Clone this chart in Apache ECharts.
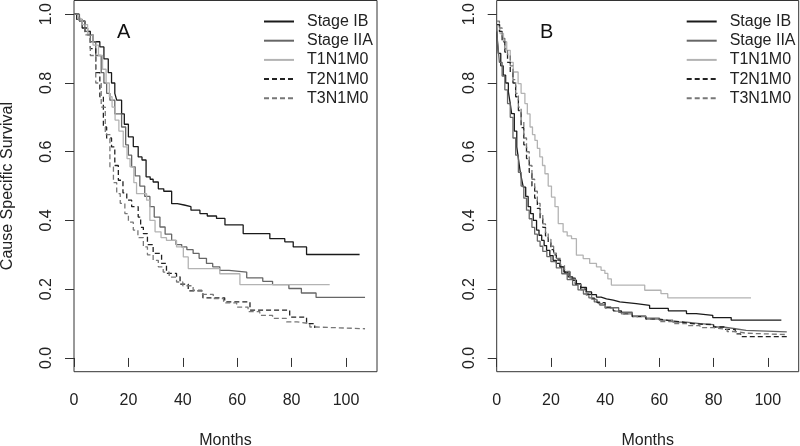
<!DOCTYPE html>
<html>
<head>
<meta charset="utf-8">
<script src="https://cdn.jsdelivr.net/npm/echarts@6/dist/echarts.min.js"></script>
<style>html,body{margin:0;padding:0;background:#fff;}#c{width:800px;height:446px;}</style>
</head>
<body>
<div id="c"></div>
<script>
// ---- Data (time in months, cause-specific survival) ----
const seriesNames = ['Stage IB', 'Stage IIA', 'T1N1M0', 'T2N1M0', 'T3N1M0'];
const xTicks = [0, 20, 40, 60, 80, 100];
const yTicks = [0, 0.2, 0.4, 0.6, 0.8, 1.0];

// Panel A
const A_IB = [[0,1],[1,0.985],[3,0.96],[5,0.94],[7,0.92],[9.5,0.905],[11,0.87],[12.6,0.83],[13.8,0.8],[15,0.77],[15.7,0.75],[17.5,0.71],[18.5,0.68],[20,0.643],[21.8,0.615],[23.6,0.585],[25,0.576],[26.5,0.527],[28,0.52],[29.1,0.512],[31,0.492],[33,0.485],[35.9,0.449],[38,0.445],[40.5,0.44],[43,0.43],[46.3,0.42],[49,0.413],[52.4,0.406],[55.5,0.387],[62.2,0.362],[72,0.347],[77.5,0.338],[80.6,0.323],[85.5,0.301],[105,0.301]];
const A_IIA = [[0,1],[2,0.98],[4,0.95],[6,0.92],[8,0.88],[10,0.83],[11,0.8],[12,0.77],[13.2,0.75],[15,0.71],[17.5,0.672],[19,0.62],[20,0.59],[21.2,0.556],[22.5,0.53],[24.2,0.5],[26,0.47],[27.9,0.44],[29.5,0.41],[31.6,0.381],[33.5,0.36],[35.9,0.342],[37.5,0.33],[39.6,0.323],[41.5,0.315],[43.8,0.304],[46,0.29],[48.7,0.275],[51,0.265],[53.6,0.255],[57,0.25],[63.5,0.233],[69.4,0.223],[73,0.2135],[79,0.202],[83.6,0.189],[89,0.176],[107,0.176]];
const A_T1 = [[0,1],[1.5,0.985],[3,0.97],[5,0.94],[7,0.91],[9,0.88],[10.5,0.84],[11.8,0.8],[13,0.76],[14,0.73],[15.1,0.692],[16.5,0.66],[18.1,0.614],[19.5,0.58],[20.6,0.556],[22,0.51],[23,0.478],[26.7,0.459],[27.9,0.4],[29.8,0.367],[32,0.35],[34,0.342],[37.7,0.323],[40.2,0.294],[42,0.26],[53.6,0.245],[61,0.2135],[94,0.2135]];
const A_T2 = [[0,1],[2,0.98],[4,0.95],[6,0.9],[8,0.83],[9.5,0.76],[10.8,0.672],[12,0.64],[13.8,0.614],[15,0.56],[16.3,0.517],[18,0.48],[19.4,0.459],[21.2,0.44],[23.6,0.41],[24.5,0.38],[25.5,0.362],[27,0.33],[29.1,0.304],[32.2,0.275],[34,0.246],[37.7,0.236],[39,0.215],[42,0.195],[47.4,0.175],[55.4,0.163],[64.7,0.139],[79.3,0.119],[85.5,0.1],[88.5,0.087],[88.7,0.087]];
const A_T3 = [[0,1],[2,0.98],[4,0.94],[6,0.88],[8,0.8],[10,0.73],[11.5,0.65],[13.2,0.556],[14.5,0.51],[15.7,0.478],[17,0.45],[18.7,0.42],[20,0.395],[21.8,0.372],[23.5,0.35],[25.5,0.323],[27,0.3],[29.1,0.284],[31,0.265],[32.8,0.25],[35,0.235],[37.7,0.221],[40,0.21],[43.8,0.197],[47,0.185],[51.2,0.173],[55,0.16],[59.8,0.148],[64,0.135],[68.3,0.124],[73,0.115],[78.1,0.105],[82,0.1],[86.7,0.09],[89,0.085],[107,0.085]];

// Panel B
const B_IB = [[0,0.95],[0.6,0.886],[1.5,0.85],[2.4,0.823],[3.3,0.8],[4.3,0.774],[5,0.74],[5.5,0.711],[6.5,0.66],[7.4,0.614],[8,0.58],[8.6,0.546],[9.2,0.52],[9.8,0.497],[10.7,0.47],[11.6,0.44],[12.5,0.42],[13.5,0.4],[14.7,0.372],[15.6,0.357],[16.6,0.342],[17.5,0.327],[18.4,0.313],[19.6,0.298],[20.8,0.284],[22,0.275],[23.3,0.265],[24.8,0.25],[26.3,0.236],[28,0.226],[29.4,0.216],[31,0.205],[33.1,0.192],[35,0.184],[36.8,0.177],[38.5,0.172],[40.5,0.168],[43,0.163],[45.4,0.158],[51.5,0.153],[56.4,0.144],[63.3,0.137],[70,0.129],[73.6,0.124],[79.7,0.1175],[86.5,0.11],[105,0.11]];
const B_IIA = [[0,0.97],[0.3,0.92],[1,0.86],[2,0.82],[3,0.78],[4,0.74],[5,0.7],[6,0.64],[7,0.59],[8,0.54],[9,0.5],[10,0.465],[11,0.43],[12,0.405],[13,0.38],[14,0.36],[15,0.34],[16,0.325],[17,0.31],[18.5,0.295],[20,0.28],[22,0.262],[24,0.245],[26,0.228],[28,0.212],[30,0.198],[32,0.186],[34,0.175],[36,0.163],[38,0.154],[40,0.146],[45,0.133],[50,0.122],[55,0.116],[60,0.11],[65,0.104],[70,0.1],[75,0.097],[80,0.09],[84,0.085],[88,0.08],[92,0.076],[107,0.076]];
const B_T1 = [[0,0.97],[1.2,0.944],[2.5,0.92],[3.7,0.895],[5,0.86],[6.1,0.832],[7.9,0.798],[9,0.77],[10.4,0.74],[11.3,0.71],[12.3,0.672],[13.2,0.65],[14.1,0.633],[15,0.61],[15.9,0.585],[16.9,0.56],[17.8,0.536],[19,0.5],[20.2,0.468],[21.5,0.44],[22.7,0.391],[24.5,0.367],[26,0.355],[27.6,0.347],[29.4,0.299],[31.9,0.289],[34.3,0.275],[36.8,0.265],[38.5,0.255],[39.9,0.246],[41,0.23],[42.3,0.212],[54.6,0.197],[60.6,0.187],[63.1,0.175],[93.8,0.175]];
const B_T2 = [[0,0.97],[1,0.95],[2,0.92],[3,0.89],[4,0.86],[5,0.83],[6,0.8],[7,0.76],[8,0.72],[9,0.67],[10,0.62],[11,0.58],[12,0.54],[13,0.5],[14,0.465],[15,0.435],[16,0.405],[17,0.38],[18,0.355],[19,0.335],[20,0.315],[21,0.3],[22,0.285],[23.5,0.265],[25,0.25],[27,0.232],[29,0.215],[31,0.2],[33,0.185],[35,0.172],[37,0.161],[40,0.148],[43,0.137],[46,0.128],[50,0.12],[55,0.113],[60,0.108],[64,0.105],[68,0.1],[72,0.098],[76,0.097],[80,0.09],[84,0.083],[88,0.07],[90,0.062],[107,0.062]];
const B_T3 = [[0,0.98],[1,0.96],[2,0.93],[3,0.9],[4,0.88],[5,0.85],[6,0.81],[7,0.77],[8,0.73],[9,0.69],[10,0.64],[11,0.6],[12,0.56],[13,0.52],[14,0.485],[15,0.45],[16,0.42],[17,0.39],[18,0.365],[19,0.345],[20,0.325],[21,0.305],[22,0.29],[23.5,0.27],[25,0.252],[27,0.232],[29,0.214],[31,0.198],[33,0.183],[35,0.17],[37,0.158],[40,0.145],[43,0.136],[46,0.128],[50,0.12],[55,0.113],[60,0.106],[65,0.1],[70,0.094],[75,0.088],[80,0.083],[85,0.077],[88,0.072],[92,0.068],[107,0.068]];

const panelA = [A_IB, A_IIA, A_T1, A_T2, A_T3];
const panelB = [B_IB, B_IIA, B_T1, B_T2, B_T3];

// ---- Styles ----
const FONT = '"Liberation Sans", Arial, sans-serif';
const FS = 16;
const lineStyles = [
  {color: '#1a1a1a', type: 'solid'},
  {color: '#666666', type: 'solid'},
  {color: '#b3b3b3', type: 'solid'},
  {color: '#222222', type: [5, 3]},
  {color: '#777777', type: [5, 3]}
];

function makeSeries(arrs, gi) {
  return arrs.map((d, i) => ({
    name: seriesNames[i], type: 'line', step: 'end', data: d,
    xAxisIndex: gi, yAxisIndex: gi, symbol: 'none', silent: true, animation: false,
    lineStyle: {color: lineStyles[i].color, type: lineStyles[i].type, width: 1.3},
    itemStyle: {color: lineStyles[i].color}
  }));
}

function xAxis(gi) {
  return {
    type: 'value', gridIndex: gi, min: 0, max: 111.4,
    name: 'Months', nameLocation: 'middle', nameGap: 61,
    nameTextStyle: {fontFamily: FONT, fontSize: FS, color: '#222'},
    axisLine: {show: false},
    axisTick: {show: true, length: 9, lineStyle: {color: '#333'}, customValues: xTicks},
    axisLabel: {fontFamily: FONT, fontSize: FS, color: '#222', margin: 21, customValues: xTicks,
      formatter: v => String(v)},
    splitLine: {show: false}
  };
}
function yAxis(gi, withName) {
  return {
    type: 'value', gridIndex: gi, min: -0.04, max: 1.04,
    name: withName ? 'Cause Specific Survival' : '', nameLocation: 'middle', nameGap: 58, nameRotate: 90,
    nameTextStyle: {fontFamily: FONT, fontSize: FS, color: '#222'},
    axisLine: {show: false},
    axisTick: {show: true, length: 9, lineStyle: {color: '#333'}, customValues: yTicks},
    axisLabel: {fontFamily: FONT, fontSize: FS, color: '#222', margin: 19, rotate: 90, customValues: yTicks,
      formatter: v => v.toFixed(1)},
    splitLine: {show: false}
  };
}
function legend(left) {
  return {
    orient: 'vertical', left: left, top: 13.5, padding: 0, itemWidth: 30, itemHeight: 14, itemGap: 3.2,
    selectedMode: false, data: seriesNames,
    itemStyle: {opacity: 0},
    textStyle: {fontFamily: FONT, fontSize: FS, color: '#222', padding: [0, 0, 0, 8]}
  };
}

const chart = echarts.init(document.getElementById('c'), null, {renderer: 'canvas'});
chart.setOption({
  animation: false,
  backgroundColor: '#fff',
  grid: [
    {left: 74, top: 0.5, width: 303, height: 371.2, show: true, borderColor: '#333', borderWidth: 1, backgroundColor: 'transparent', outerBoundsMode: 'none', containLabel: false},
    {left: 496.7, top: 0.5, width: 302, height: 371.2, show: true, borderColor: '#333', borderWidth: 1, backgroundColor: 'transparent', outerBoundsMode: 'none', containLabel: false}
  ],
  xAxis: [xAxis(0), xAxis(1)],
  yAxis: [yAxis(0, true), yAxis(1, false)],
  legend: [legend(263), legend(685.7)],
  graphic: [
    {type: 'text', left: 117, top: 22, style: {text: 'A', font: '20px ' + FONT, fill: '#111'}},
    {type: 'text', left: 540, top: 22, style: {text: 'B', font: '20px ' + FONT, fill: '#111'}}
  ],
  series: [...makeSeries(panelA, 0), ...makeSeries(panelB, 1)]
});
</script>
</body>
</html>
